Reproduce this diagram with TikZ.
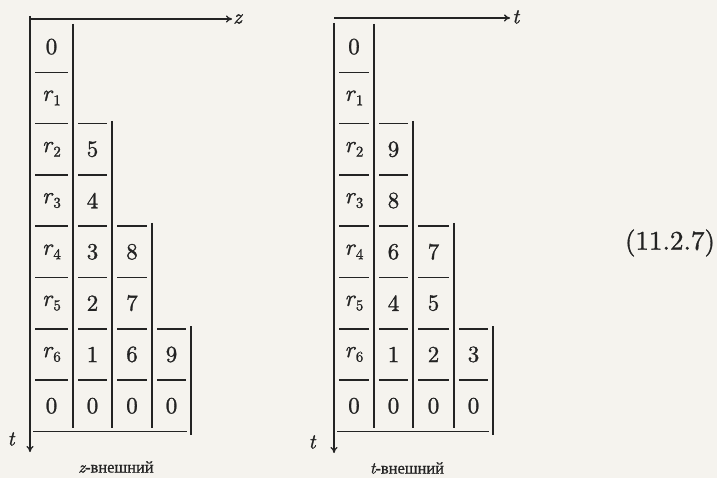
\documentclass[tikz,border=0pt]{standalone}
\usepackage{fontspec}
\newfontfamily\cellfont{lmroman10-regular}[Extension=.otf, ItalicFont=lmroman10-italic, FakeBold=1.2]
\newfontfamily\cyr{Liberation Serif}[FakeBold=0.8]
\usetikzlibrary{arrows.meta}
\definecolor{paper}{RGB}{245,243,238}
\definecolor{ink}{RGB}{35,35,35}
\tikzset{
  rule/.style={ink, line width=1.4pt},
  axis/.style={ink, line width=1.4pt, -{To[length=6pt,width=7pt]}},
  cell/.style={ink, font=\fontsize{23}{25}\cellfont, anchor=center, inner sep=0pt},
  axlabel/.style={ink, font=\fontsize{21}{23}\cellfont\itshape, inner sep=0pt},
  caption/.style={ink, font=\fontsize{16.5}{18}\cyr\upshape, inner sep=0pt},
  eqno/.style={ink, font=\fontsize{27}{30}\cellfont, inner sep=0pt}
}
\newcommand\rr[1]{{\itshape r}\kern1.5pt\raisebox{-4.5pt}{\fontsize{15}{15}\cellfont #1}}
% grid of one tableau: #1 axis x, #2..#5 right edges of the four columns
\newcommand\tabgrid[5]{%
  \foreach \L/\R/\S/\T [count=\c] in {#1/#2/1/24, #2/#3/2/121, #3/#4/4/223, #4/#5/6/326}{%
    \foreach \k in {\S,...,7}{%
      \draw[rule] (\L+5, 21+51.3*\k) -- (\R-5, 21+51.3*\k);
    }%
    \ifnum\c=4
      \draw[rule] (\R,\T) -- (\R,435);
    \else
      \draw[rule] (\R,\T) -- (\R,428);
    \fi
  }%
  \draw[rule] (#1+3, 431.4) -- (#5-4, 431.4);
}
\newcommand\rowy[1]{21+51.3*#1+25.65}

\begin{document}
\begin{tikzpicture}[x=1pt,y=-1pt]
\fill[paper] (0,0) rectangle (717,478);
\useasboundingbox (0,0) rectangle (717,478);

% ---------- left tableau (z-outer) ----------
\coordinate (LO) at (30,19);
\coordinate (LZ) at (232,19);
\coordinate (LT) at (30,452);
\draw[axis] (LO) -- (LZ);
\draw[axis] (30,16) -- (LT);
\node[axlabel, anchor=west] (lz) at (233,19) {z};
\node[axlabel] (lt) at (11,439) {t};
\tabgrid{30}{73}{112}{152}{191}
\foreach \k/\txt in {0/0, 1/\rr1, 2/\rr2, 3/\rr3, 4/\rr4, 5/\rr5, 6/\rr6, 7/0}
  \node[cell] (L-\k-1) at (51.5, {\rowy{\k}}) {\txt};
\foreach \k/\txt in {2/5, 3/4, 4/3, 5/2, 6/1, 7/0}
  \node[cell] (L-\k-2) at (92.5, {\rowy{\k}}) {\txt};
\foreach \k/\txt in {4/8, 5/7, 6/6, 7/0}
  \node[cell] (L-\k-3) at (132, {\rowy{\k}}) {\txt};
\foreach \k/\txt in {6/9, 7/0}
  \node[cell] (L-\k-4) at (171.5, {\rowy{\k}}) {\txt};
\node[caption] (lcap) at (116,467) {{\cellfont\itshape z}-внешний};

% ---------- right tableau (t-outer) ----------
\coordinate (RO) at (334,18);
\coordinate (RZ) at (510,18);
\coordinate (RT) at (334,453);
\draw[axis] (RO) -- (RZ);
\draw[axis] (334,23) -- (RT);
\node[axlabel, anchor=west] (rz) at (512,17) {t};
\node[axlabel] (rt) at (312,442) {t};
\tabgrid{334}{374}{413}{454}{493}
\foreach \k/\txt in {0/0, 1/\rr1, 2/\rr2, 3/\rr3, 4/\rr4, 5/\rr5, 6/\rr6, 7/0}
  \node[cell] (R-\k-1) at (354, {\rowy{\k}}) {\txt};
\foreach \k/\txt in {2/9, 3/8, 4/6, 5/4, 6/1, 7/0}
  \node[cell] (R-\k-2) at (393.5, {\rowy{\k}}) {\txt};
\foreach \k/\txt in {4/7, 5/5, 6/2, 7/0}
  \node[cell] (R-\k-3) at (433.5, {\rowy{\k}}) {\txt};
\foreach \k/\txt in {6/3, 7/0}
  \node[cell] (R-\k-4) at (473.5, {\rowy{\k}}) {\txt};
\node[caption] (rcap) at (407,468) {{\cellfont\itshape t}-внешний};

% ---------- equation number ----------
\node[eqno] (eq) at (670,243) {(11.2.7)};
\end{tikzpicture}
\end{document}
